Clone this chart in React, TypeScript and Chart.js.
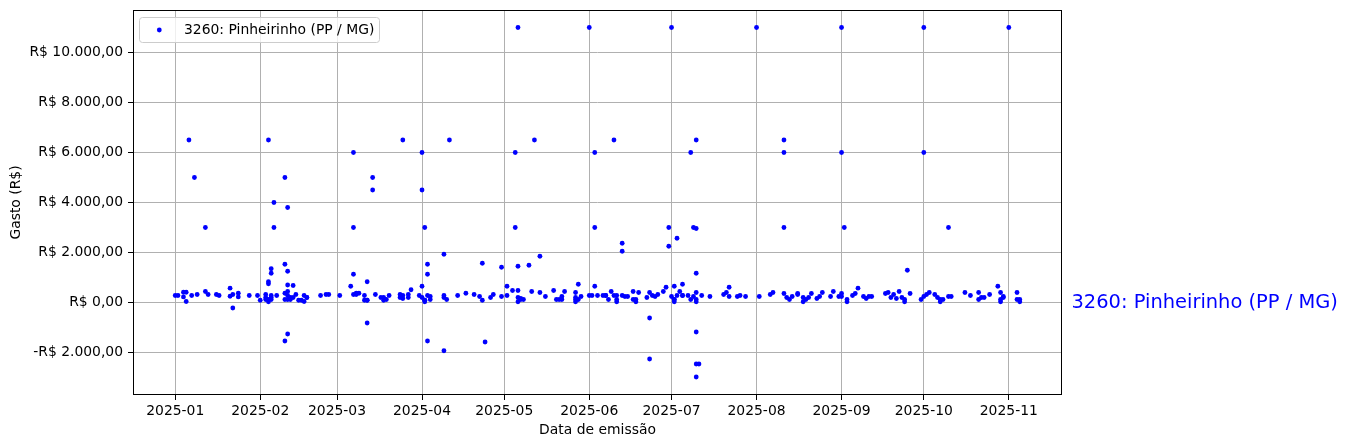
import React, { useEffect, useRef } from 'react';
import { Chart, registerables } from 'chart.js';

Chart.register(...registerables);

const FONT_FAMILY = '"DejaVu Sans", "Liberation Sans", sans-serif';
const SERIES_LABEL = '3260: Pinheirinho (PP / MG)';
const X_TITLE = 'Data de emissão';
const Y_TITLE = 'Gasto (R$)';

// x axis: days since 2025-01-01
const monthTickDays = [0, 31, 59, 90, 120, 151, 181, 212, 243, 273, 304];
const monthTickLabels = [
  '2025-01', '2025-02', '2025-03', '2025-04', '2025-05', '2025-06',
  '2025-07', '2025-08', '2025-09', '2025-10', '2025-11',
];
const yTickValues = [-2000, 0, 2000, 4000, 6000, 8000, 10000];

// Emission day (days since 2025-01-01) and amount (R$) of each note
const emissionDays = [
  0, 1, 3, 3, 4, 4, 5, 6, 7, 8,
  11, 11, 12, 15, 16, 20, 20, 21, 21, 23,
  23, 27, 30, 31, 33, 33, 33, 34, 34, 34,
  34, 35, 35, 35, 35, 35, 36, 36, 37, 40,
  40, 40, 40, 40, 41, 41, 41, 41, 41, 41,
  41, 42, 42, 43, 43, 44, 45, 46, 47, 47,
  48, 48, 53, 55, 56, 60, 64, 65, 65, 65,
  65, 66, 66, 67, 69, 69, 70, 70, 70, 70,
  72, 72, 73, 75, 76, 76, 77, 78, 82, 82,
  83, 83, 83, 85, 85, 86, 89, 90, 90, 90,
  90, 91, 91, 91, 92, 92, 92, 92, 93, 93,
  98, 98, 98, 98, 99, 100, 103, 106, 109, 111,
  112, 112, 113, 115, 116, 119, 119, 121, 121, 123,
  124, 124, 125, 125, 125, 125, 126, 126, 127, 129,
  130, 131, 133, 133, 135, 138, 139, 140, 141, 141,
  142, 146, 146, 146, 147, 147, 148, 151, 151, 152,
  153, 153, 153, 154, 156, 157, 157, 158, 159, 160,
  160, 161, 161, 163, 163, 163, 164, 165, 167, 167,
  168, 169, 172, 173, 173, 173, 174, 175, 176, 178,
  179, 180, 180, 181, 181, 182, 182, 182, 183, 183,
  184, 185, 185, 185, 187, 188, 188, 189, 189, 190,
  190, 190, 190, 190, 190, 190, 190, 191, 192, 195,
  200, 201, 202, 202, 205, 206, 208, 212, 213, 217,
  218, 222, 222, 222, 222, 223, 224, 225, 227, 227,
  229, 230, 231, 232, 234, 235, 236, 239, 240, 242,
  243, 243, 243, 243, 244, 245, 247, 248, 249, 251,
  252, 253, 254, 259, 260, 261, 262, 263, 264, 265,
  266, 267, 268, 272, 273, 273, 273, 274, 275, 277,
  278, 279, 280, 282, 282, 283, 288, 290, 293, 293,
  294, 295, 297, 300, 301, 301, 302, 302, 304, 307,
  307, 308,
  34, 91, 125, 146, 161, 168, 182, 190, 229, 245,
  266, 279, 301, 308,
];

const amounts = [
  280, 280, 410, 225, 410, 40, 6500, 280, 5000, 320,
  3000, 440, 320, 320, 280, 575, 250, 320, -220, 370,
  225, 280, 280, 90, 320, 200, 120, 6500, 830, 750,
  120, 1350, 1170, 280, 200, 120, 4000, 3000, 280, 5000,
  1530, 370, 120, -1540, 3800, 1250, 700, 440, 280, 120,
  -1260, 200, 120, 680, 200, 320, 90, 90, 280, 40,
  200, 200, 280, 320, 320, 280, 650, 6000, 3000, 1130,
  320, 370, 320, 370, 280, 90, 830, 90, 90, -820,
  5000, 4500, 320, 200, 90, 200, 120, 280, 320, 200,
  6500, 160, 280, 320, 200, 510, 280, 6000, 4500, 650,
  200, 3000, 90, 90, 1530, 1130, 280, -1540, 240, 120,
  1930, 280, 200, -1930, 120, 6500, 280, 370, 320, 240,
  1570, 90, -1580, 200, 320, 1410, 240, 650, 280, 480,
  6000, 3000, 11000, 1450, 480, 200, 120, 160, 120, 1490,
  440, 6500, 1850, 400, 240, 480, 120, 120, 240, 120,
  440, 400, 200, 120, 730, 120, 240, 11000, 280, 280,
  6000, 3000, 650, 280, 280, 280, 280, 120, 440, 6500,
  280, 280, 120, 2370, 2050, 280, 240, 240, 440, 120,
  120, 400, 200, 400, -620, -2260, 280, 240, 320, 440,
  610, 3000, 2250, 11000, 240, 650, 120, 120, 2570, 280,
  440, 730, 280, 280, 280, 6000, 120, 3000, 240, 2960,
  6500, 1170, 400, 120, -1180, -2460, -2980, -2460, 280, 240,
  320, 400, 610, 240, 240, 280, 240, 11000, 240, 320,
  400, 6500, 6000, 3000, 360, 200, 120, 240, 360, 320,
  200, 120, 200, 360, 160, 240, 400, 240, 440, 240,
  11000, 6000, 360, 240, 3000, 120, 280, 360, 575, 240,
  160, 240, 240, 360, 400, 200, 320, 160, 440, 200,
  120, 1290, 360, 120, 11000, 6000, 240, 320, 400, 320,
  200, 120, 120, 3000, 240, 240, 400, 280, 400, 120,
  200, 200, 320, 650, 400, 120, 240, 200, 11000, 400,
  120, 120,
  30, 30, 30, 30, 30, 30, 30, 30, 30, 30,
  30, 30, 30, 30,
];

function formatBRL(v: number): string {
  const neg = v < 0;
  const [intPart, dec] = Math.abs(v).toFixed(2).split('.');
  const grouped = intPart.replace(/\B(?=(\d{3})+(?!\d))/g, '.');
  return (neg ? '-' : '') + 'R$ ' + grouped + ',' + dec;
}

const TICK_FONT = { family: FONT_FAMILY, size: 13.9 };

const overlayPlugin = {
  id: 'mplOverlay',
  afterDraw(chart: any) {
    const { ctx, chartArea: a } = chart;
    const yScale = chart.scales.y;
    ctx.save();
    // spines
    ctx.strokeStyle = '#000';
    ctx.lineWidth = 1;
    ctx.strokeRect(a.left + 0.5, a.top + 0.5, a.right - a.left - 1, a.bottom - a.top - 1);

    // legend box
    const lx = 139.5, ly = 17.5, lw = 240, lh = 25, r = 3;
    ctx.beginPath();
    ctx.moveTo(lx + r, ly);
    ctx.lineTo(lx + lw - r, ly);
    ctx.quadraticCurveTo(lx + lw, ly, lx + lw, ly + r);
    ctx.lineTo(lx + lw, ly + lh - r);
    ctx.quadraticCurveTo(lx + lw, ly + lh, lx + lw - r, ly + lh);
    ctx.lineTo(lx + r, ly + lh);
    ctx.quadraticCurveTo(lx, ly + lh, lx, ly + lh - r);
    ctx.lineTo(lx, ly + r);
    ctx.quadraticCurveTo(lx, ly, lx + r, ly);
    ctx.closePath();
    ctx.fillStyle = 'rgba(255,255,255,0.8)';
    ctx.fill();
    ctx.strokeStyle = '#cccccc';
    ctx.lineWidth = 1;
    ctx.stroke();

    ctx.beginPath();
    ctx.arc(159.3, 30, 2.4, 0, Math.PI * 2);
    ctx.fillStyle = '#0000ff';
    ctx.fill();

    ctx.fillStyle = '#000';
    ctx.font = `13.9px ${FONT_FAMILY}`;
    ctx.textBaseline = 'middle';
    ctx.textAlign = 'left';
    ctx.fillText(SERIES_LABEL, 184, 30);

    // right-side label
    ctx.fillStyle = '#0000ff';
    ctx.font = `19.44px ${FONT_FAMILY}`;
    ctx.textBaseline = 'middle';
    ctx.fillText(SERIES_LABEL, a.right + 9.5, yScale.getPixelForValue(0));
    ctx.restore();
  },
};

export default function App() {
  const canvasRef = useRef<HTMLCanvasElement | null>(null);

  useEffect(() => {
    const canvas = canvasRef.current;
    if (!canvas) return;
    const points = emissionDays.map((d, i) => ({ x: d, y: amounts[i] }));
    const chart = new Chart(canvas, {
      type: 'scatter',
      data: {
        datasets: [
          {
            label: SERIES_LABEL,
            data: points,
            backgroundColor: '#0000ff',
            borderColor: '#0000ff',
            borderWidth: 0,
            pointRadius: 2.4,
            pointHoverRadius: 2.4,
          },
        ],
      },
      options: {
        responsive: false,
        animation: false,
        devicePixelRatio: 1,
        layout: { padding: { left: 0, right: 285, top: 10, bottom: 0 } },
        plugins: {
          legend: { display: false },
          tooltip: { enabled: false },
        },
        scales: {
          x: {
            type: 'linear',
            min: -15.4,
            max: 323.4,
            afterBuildTicks: (s: any) => {
              s.ticks = monthTickDays.map((v) => ({ value: v }));
            },
            afterFit: (s: any) => {
              s.height = 53;
              s.paddingLeft = 0;
              s.paddingRight = 0;
            },
            ticks: {
              autoSkip: false,
              maxRotation: 0,
              minRotation: 0,
              color: '#000',
              font: TICK_FONT,
              padding: 3,
              callback: (_v: any, i: number) => monthTickLabels[i],
            },
            grid: {
              color: '#b0b0b0',
              lineWidth: 1,
              drawTicks: true,
              tickLength: 5,
              tickColor: '#000',
              tickWidth: 1,
            },
            border: { display: false },
            title: {
              display: true,
              text: X_TITLE,
              color: '#000',
              font: TICK_FONT,
              padding: { top: 0, bottom: 9 },
            },
          },
          y: {
            type: 'linear',
            min: -3700,
            max: 11700,
            afterBuildTicks: (s: any) => {
              s.ticks = yTickValues.map((v) => ({ value: v }));
            },
            afterFit: (s: any) => {
              s.width = 133;
              s.paddingTop = 0;
              s.paddingBottom = 0;
            },
            ticks: {
              autoSkip: false,
              color: '#000',
              font: TICK_FONT,
              padding: 5,
              callback: (v: any) => formatBRL(Number(v)),
            },
            grid: {
              color: '#b0b0b0',
              lineWidth: 1,
              drawTicks: true,
              tickLength: 5,
              tickColor: '#000',
              tickWidth: 1,
            },
            border: { display: false },
            title: {
              display: true,
              text: Y_TITLE,
              color: '#000',
              font: TICK_FONT,
              padding: { top: 8, bottom: 0 },
            },
          },
        },
      },
      plugins: [overlayPlugin],
    });
    return () => chart.destroy();
  }, []);

  return (
    <div style={{ position: 'fixed', left: 0, top: 0, width: 1347, height: 448, background: '#fff' }}>
      <canvas ref={canvasRef} width={1347} height={448} style={{ display: 'block' }} />
    </div>
  );
}
